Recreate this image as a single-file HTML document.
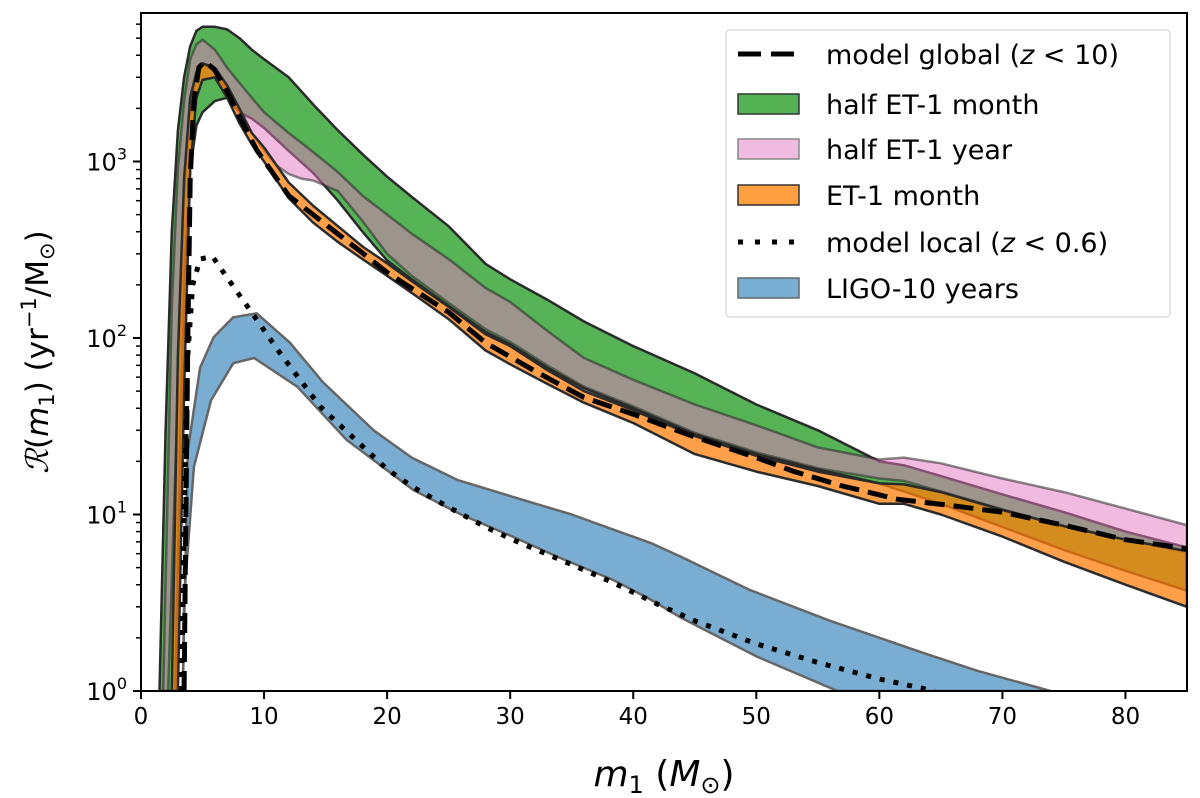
<!DOCTYPE html>
<html><head><meta charset="utf-8">
<style>
html,body{margin:0;padding:0;background:#fff;}
svg{display:block;font-family:"DejaVu Sans","Liberation Sans",sans-serif;}
</style></head>
<body>
<svg id="chart" width="1200" height="798" viewBox="0 0 1200 798" xmlns="http://www.w3.org/2000/svg">
<defs><clipPath id="plotclip"><rect x="141" y="13" width="1046" height="678"/></clipPath></defs>
<g id="plot" clip-path="url(#plotclip)"></g>
<g id="axes"></g>
<g id="legend"></g>
</svg>
<script>
// ---- data ----
const xTicks = [0,10,20,30,40,50,60,70,80];
const yTicks = [0,1,2,3];
const gX  = [1.5,2,2.5,3,3.5,4,4.5,5,6,7,8,9,10,12,14,16,18,20,22,25,28,30,33,36,40,45,50,55,60,62,65,70,75,80,85];
const gUp = [1,30,400,1500,3000,4500,5500,5800,5800,5600,5000,4300,3800,3000,2100,1500,1100,820,630,430,263,215,165,124,90,63,42,30,20,19,16.5,13,10.3,8,6.5];
const gLoX = [2.8,3.2,3.6,4,4.5,5,6,7,8,9,10,12,14,16,18,20,22,25,28,30,33,36,40,45,50,55,60,62,65,70,75,80,85];
const gLo = [1,30,300,900,1600,1900,2200,2300,1900,1750,1550,1150,860,600,400,275,215,152,108,92,68,52,40,28.5,22,18,15,13.5,11.5,8.5,6.3,4.8,3.7];
const pX  = [1.8,2.5,3,3.5,4,4.5,5,6,7,8,9,10,12,14,16,18,20,22,25,28,30,33,36,40,45,50,55,60,62,65,70,75,80,85];
const pUp = [1,150,900,2200,3800,4600,4900,4300,3400,2790,2300,1900,1450,1130,870,640,500,390,280,192,160,110,77,58,42,32,24,20.5,21,19.5,16,13.4,10.8,8.7];
const pLoX = [2.2,3,3.5,4,4.5,5,6,7,8,9,10,11,12,13,14,16,18,20,22,25,28,30,33,36,40,45,50,55,60,62,65,70,75,80,85];
const pLo = [1,50,600,2000,3000,3500,3300,2500,1900,1450,1150,950,850,800,780,680,460,300,225,158,112,95,70,53,41,29,22.5,18.3,16,15.5,13.5,10.7,8.6,7.2,6.1];
const oX  = [2.5,3,3.5,4,4.5,5,6,7,8,9,10,12,14,16,18,20,22,25,28,30,33,36,40,45,50,55,60,62,65,70,75,80,85];
const oUp = [1,80,800,2300,3200,3600,3400,2700,2000,1450,1200,760,560,430,330,265,210,150,105,90,66,50,39,27.8,21.5,17.5,15,14.8,13.4,10.6,8.6,7.2,6.2];
const oLoX = [3,3.5,4,4.5,5,6,7,8,9,10,12,14,16,18,20,22,25,28,30,33,36,40,45,50,55,60,62,65,70,75,80,85];
const oLo = [1,50,900,2300,2900,3000,2300,1650,1250,1000,620,450,350,280,225,180,128,85,71,55,43,33,22,17.5,14.5,11.5,11.5,10,7.5,5.4,4.0,3.0];
const bX  = [3.4,3.8,4.8,5.9,7.5,9.4,12.1,14.8,18.9,22,25.7,30.2,35,38.4,41.4,43.9,49.5,56,63.6,68,73.9];
const bUp = [1,23,68,101,131,138,94,56,30,21,15.7,12.6,10,8.2,6.9,5.75,3.73,2.5,1.64,1.3,1];
const bLoX = [3.4,3.5,4.3,5.7,7.5,9.2,12.7,16.7,22.1,26,30.2,34,38.4,41.4,43.9,50.1,56.6];
const bLo = [1,3.3,18.6,44.5,72,77,53,26.5,13.8,10,7.5,5.7,4.25,3.3,2.6,1.56,1];
const globX = [3.5,3.6,3.8,4.0,4.3,4.7,5.2,6,7,8,9.4,12,15,18,20,25,28,32,36,40,45,50,53,57,61.5,66,70,75,80,85];
const globY = [1,5,100,800,2200,3400,3700,3300,2500,1800,1160,640,440,303,235,140,94,65,46,37,27.5,21,17.6,14.5,12.2,11.2,10.3,8.7,7.2,6.4];
const locX = [3.3,3.5,3.8,4.2,4.8,5.8,7,8.7,11.3,14.6,20,22.1,25,28,30.2,35,38.4,42,45,50,55,60,64.5];
const locY = [1,10,80,200,280,290,220,149,82,40.6,18,14.3,11,8.5,7.2,5.2,4.1,3.1,2.5,1.85,1.45,1.17,1];

// ---- scales ----
const X0=141, X1=1187, Y0=691, Y1=13, XMAX=85, DEC=176.5;
function sx(m){return X0+(m/XMAX)*(X1-X0);}
function sy(v){return Y0-Math.log10(v)*DEC;}
const NS="http://www.w3.org/2000/svg";
function mk(tag,attrs,parent){const e=document.createElementNS(NS,tag);for(const k in attrs)e.setAttribute(k,attrs[k]);parent.appendChild(e);return e;}
function linePts(xs,ys){return xs.map((x,i)=>sx(x).toFixed(1)+","+sy(ys[i]).toFixed(1)).join(" ");}
function bandPts(xu,yu,xl,yl){
  const a=xu.map((x,i)=>sx(x).toFixed(1)+","+sy(yu[i]).toFixed(1));
  const b=xl.map((x,i)=>sx(x).toFixed(1)+","+sy(yl[i]).toFixed(1)).reverse();
  return a.concat(b).join(" ");
}
const plot=document.getElementById('plot');
const axes=document.getElementById('axes');
const leg=document.getElementById('legend');

let el;
el=mk('polygon',{points:bandPts(gX,gUp,gLoX,gLo),fill:'rgba(44,160,44,0.8)',stroke:'#2b2b2b','stroke-width':2.5,'stroke-linejoin':'round'},plot);


el=mk('polygon',{points:bandPts(pX,pUp,pLoX,pLo),fill:'rgba(227,119,194,0.5)',stroke:'rgba(40,40,40,0.55)','stroke-width':2.5,'stroke-linejoin':'round'},plot);


el=mk('polygon',{points:bandPts(oX,oUp,oLoX,oLo),fill:'rgba(255,127,14,0.75)',stroke:'#2b2b2b','stroke-width':2.5,'stroke-linejoin':'round'},plot);


el=mk('polygon',{points:bandPts(bX,bUp,bLoX,bLo),fill:'rgba(31,119,180,0.6)',stroke:'#666','stroke-width':2.5,'stroke-linejoin':'round'},plot);


el=mk('polyline',{points:linePts(globX,globY),fill:'none',stroke:'#000','stroke-width':5,'stroke-dasharray':'20,9'},plot);


el=mk('polyline',{points:linePts(locX,locY),fill:'none',stroke:'#000','stroke-width':5,'stroke-dasharray':'5,9'},plot);



// frame
el=mk('rect',{x:X0,y:Y1,width:X1-X0,height:Y0-Y1,fill:'none',stroke:'#000','stroke-width':2},axes);


// x ticks
xTicks.forEach(t=>{
  const x=sx(t);
  el=mk('line',{x1:x,y1:Y0,x2:x,y2:Y0+8,stroke:'#000','stroke-width':2},axes);
  
  
  el=mk('text',{x:x,y:Y0+33,'font-size':23,'text-anchor':'middle',fill:'#000'},axes);
  el.textContent=String(t);
  
  
});
// y ticks
yTicks.forEach(d=>{
  const y=sy(Math.pow(10,d));
  el=mk('line',{x1:X0-8,y1:y,x2:X0,y2:y,stroke:'#000','stroke-width':2},axes);
  
  
  el=mk('text',{x:X0-14,y:y+9,'font-size':24,'text-anchor':'end',fill:'#000'},axes);
  
  
  const t1=mk('tspan',{},el);t1.textContent='10';
  const t2=mk('tspan',{dy:-11,'font-size':16},el);t2.textContent=String(d);
  for(let k=2;k<10;k++){
    const v=Math.pow(10,d)*k; const yy=sy(v);
    if(yy<Y1) continue;
    el=mk('line',{x1:X0-5,y1:yy,x2:X0,y2:yy,stroke:'#000','stroke-width':1.5},axes);
    
    
  }
});
// axis titles
el=mk('text',{x:664,y:786,'font-size':36,'text-anchor':'middle',fill:'#000'},axes);


el.innerHTML='<tspan font-style="italic">m</tspan><tspan font-size="24" dy="7">1</tspan><tspan dy="-7"> (</tspan><tspan font-style="italic">M</tspan><tspan font-size="24" dy="7">⊙</tspan><tspan dy="-7">)</tspan>';
el=mk('text',{x:0,y:0,'font-size':31,'text-anchor':'middle',fill:'#000',transform:'translate(48,352) rotate(-90)'},axes);


el.innerHTML='<tspan font-family="Liberation Serif" font-style="italic">ℛ</tspan>(<tspan font-style="italic">m</tspan><tspan font-size="21" dy="6">1</tspan><tspan dy="-6">) (yr</tspan><tspan font-size="21" dy="-12">−1</tspan><tspan dy="12">/M</tspan><tspan font-size="21" dy="6">⊙</tspan><tspan dy="-6">)</tspan>';

// legend
el=mk('rect',{x:726,y:30,width:444,height:287,rx:4,fill:'rgba(255,255,255,0.85)',stroke:'#ddd','stroke-width':1.5},leg);


const legendLabels=['model global (<i>z</i> < 10)','half ET-1 month','half ET-1 year','ET-1 month','model local (<i>z</i> < 0.6)','LIGO-10 years'];
const legendRows=[54,104,149,195,242,288];
const legendFill=[null,'#55b255','#f0bbe0','#ff9f40',null,'#79aed3'];
const legendStroke=[null,'#333','#888','#333',null,'#666'];
legendLabels.forEach((lab,i)=>{
  const y=legendRows[i];
  if(legendFill[i]){
    el=mk('rect',{x:738,y:y-10,width:61,height:20,fill:legendFill[i],stroke:legendStroke[i],'stroke-width':1.5},leg);
  }else{
    el=mk('line',{x1:738,y1:y,x2:799,y2:y,stroke:'#000','stroke-width':5,'stroke-dasharray':i===0?'23,10':'5,12'},leg);
  }
  
  
  el=mk('text',{x:826,y:y+10,'font-size':27,fill:'#000'},leg);
  el.innerHTML=lab.replace('<i>','<tspan font-style="italic">').replace('</i>','</tspan>').replace(' < ',' &lt; ');
  
  
});
</script>
</body></html>
